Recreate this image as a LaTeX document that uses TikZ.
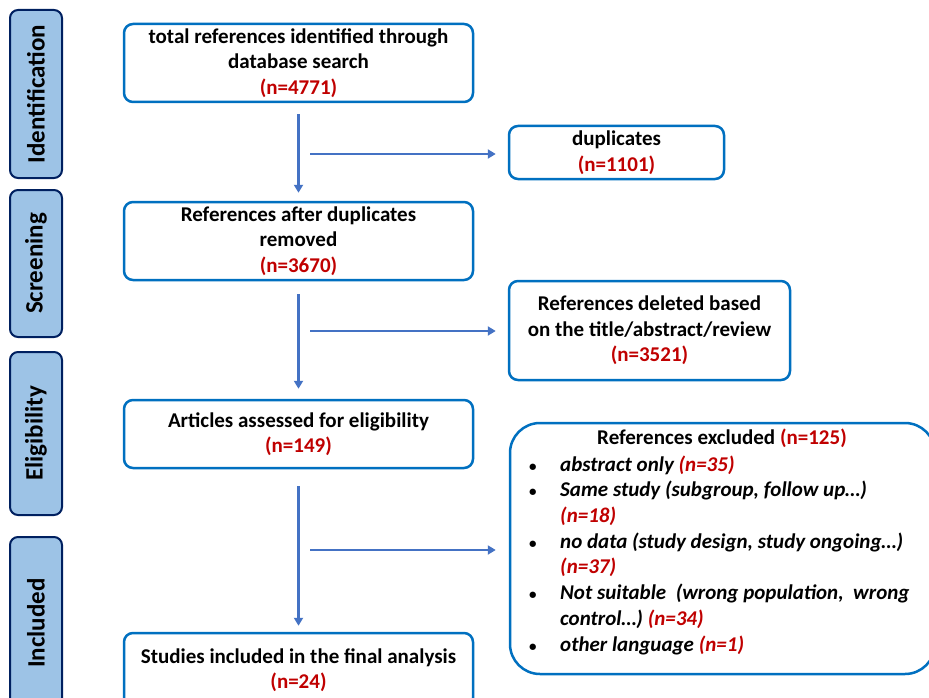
\documentclass[tikz,border=0pt]{standalone}
\usepackage{fontspec}
\setmainfont{Carlito}
\usetikzlibrary{arrows.meta}
\definecolor{boxblue}{RGB}{0,112,192}
\definecolor{arrblue}{RGB}{68,114,196}
\definecolor{nred}{RGB}{192,0,0}
\definecolor{sidefill}{RGB}{157,195,230}
\definecolor{sidedraw}{RGB}{0,32,96}
\newcommand{\nn}[1]{\textcolor{nred}{#1}}
\newcommand{\bul}{{\upshape\fontsize{15}{15}\selectfont\textbullet}}
\begin{document}
\begin{tikzpicture}[x=1pt,y=-1pt,
  font=\bfseries\fontsize{21}{25.5}\selectfont,
  mainbox/.style={draw=boxblue, line width=2.5pt, rounded corners=9pt, align=center, inner sep=0pt, fill=white},
  sidebox/.style={draw=sidedraw, fill=sidefill, line width=2pt, rounded corners=8pt, rotate=90, minimum height=52pt, inner sep=0pt, font=\bfseries\fontsize{25}{28}\selectfont},
  arr/.style={draw=arrblue, line width=2.3pt, -{Triangle[width=9pt,length=8pt]}}
]
\clip (0,0) rectangle (929,698);
\fill[white] (0,0) rectangle (929,698);
% side labels
\node[sidebox, minimum width=168pt] (sId) at (36,94) {Identification};
\node[sidebox, minimum width=147pt] (sSc) at (36,263.5) {Screening};
\node[sidebox, minimum width=163pt] (sEl) at (36,433.5) {Eligibility};
\node[sidebox, minimum width=172pt] (sIn) at (36,623) {Included};
% main boxes
\node[mainbox, minimum width=349pt, minimum height=78pt] (b1) at (298.5,63) {total references identified through\\ database search\\ \nn{(n=4771)}};
\node[mainbox, minimum width=349pt, minimum height=78pt] (b2) at (298.5,241) {References after duplicates\\ removed\\ \nn{(n=3670)}};
\node[mainbox, minimum width=349pt, minimum height=68pt] (b3) at (298.5,434) {Articles assessed for eligibility\\ \nn{(n=149)}};
\node[mainbox, minimum width=349pt, minimum height=74pt] (b4) at (298.5,670) {Studies included in the final analysis\\ \nn{(n=24)}};
% right boxes
\node[mainbox, minimum width=215pt, minimum height=53pt] (dup) at (616.5,152.5) {duplicates\\ \nn{(n=1101)}};
\node[mainbox, minimum width=281pt, minimum height=99pt] (del) at (649.5,330.5) {References deleted based\\ on the title/abstract/review\\ \nn{(n=3521)}};
\node[mainbox, rounded corners=30pt, minimum width=425pt, minimum height=251pt] (excl) at (722.5,548.5) {};
\node (exclT) at (722,438.5) {References excluded \nn{(n=125)}};
\node[anchor=west, inner sep=0pt] (exclL) at (529,556) {\itshape\fontsize{21}{25.7}\selectfont
\begin{tabular}{@{}p{31pt}@{}l@{}}
\bul & abstract only \nn{(n=35)}\\
\bul & Same study (subgroup, follow up…)\\
 & \nn{(n=18)}\\
\bul & no data (study design, study ongoing…)\\
 & \nn{(n=37)}\\
\bul & Not suitable\ \ (wrong population,\ \ wrong\\
 & control…) \nn{(n=34)}\\
\bul & other language \nn{(n=1)}
\end{tabular}};
% vertical arrows
\draw[arr, shorten <=11pt, shorten >=8pt] (b1.south) -- (b2.north);
\draw[arr, shorten <=13pt, shorten >=10pt] (b2.south) -- (b3.north);
\draw[arr, shorten <=17pt, shorten >=6pt] (b3.south) -- (b4.north);
% horizontal arrows
\coordinate (h1) at (310,154);
\coordinate (h2) at (310,331);
\coordinate (h3) at (310,550);
\draw[arr, shorten >=12pt] (h1) -- (h1 -| dup.west);
\draw[arr, shorten >=12pt] (h2) -- (h2 -| del.west);
\draw[arr, shorten >=13pt] (h3) -- (h3 -| excl.west);
\end{tikzpicture}
\end{document}
